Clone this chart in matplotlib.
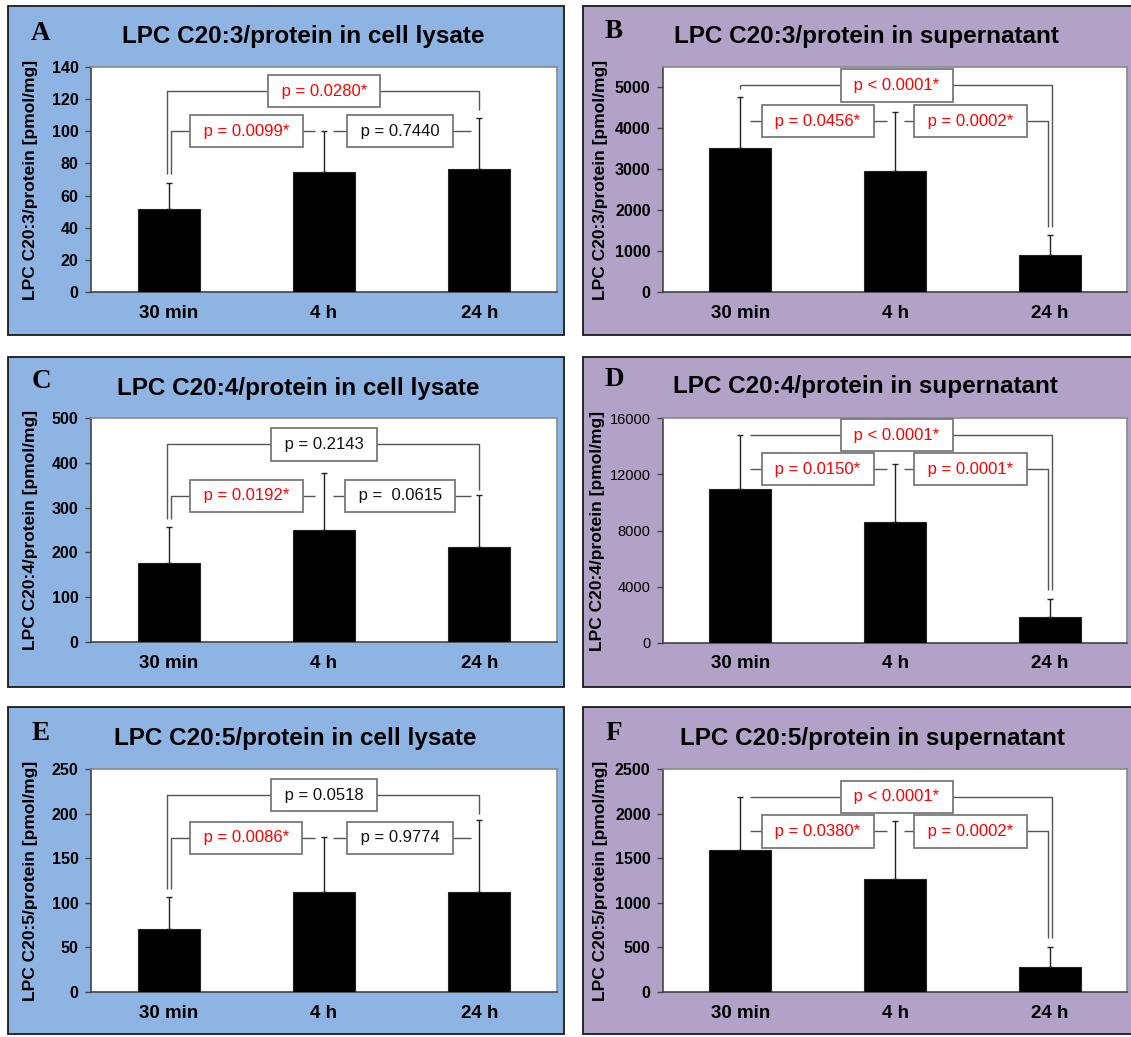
import matplotlib
matplotlib.use('Agg')
import matplotlib.pyplot as plt
from matplotlib.patches import Rectangle

W, H, DPI = 1131, 1037, 100

# ---------------- data ----------------
categories = ['30 min', '4 h', '24 h']
letters = ['A', 'B', 'C', 'D', 'E', 'F']
titles = ['LPC C20:3/protein in cell lysate', 'LPC C20:3/protein in supernatant',
          'LPC C20:4/protein in cell lysate', 'LPC C20:4/protein in supernatant',
          'LPC C20:5/protein in cell lysate', 'LPC C20:5/protein in supernatant']
ylabels = ['LPC C20:3/protein [pmol/mg]', 'LPC C20:3/protein [pmol/mg]',
           'LPC C20:4/protein [pmol/mg]', 'LPC C20:4/protein [pmol/mg]',
           'LPC C20:5/protein [pmol/mg]', 'LPC C20:5/protein [pmol/mg]']

means_A = [51.5, 74.5, 76.5]
err_A = [16.5, 25.5, 31.5]
means_B = [3507, 2945, 905]
err_B = [1243, 1443, 490]
means_C = [176, 251, 211]
err_C = [80, 126, 117]
means_D = [10984, 8606, 1878]
err_D = [3804, 4134, 1284]
means_E = [70.4, 111.8, 112.2]
err_E = [36.6, 61.8, 80.1]
means_F = [1591, 1270, 279]
err_F = [600, 645, 231]

p_top = ['p = 0.0280*', 'p < 0.0001*', 'p = 0.2143', 'p < 0.0001*', 'p = 0.0518', 'p < 0.0001*']
p_left = ['p = 0.0099*', 'p = 0.0456*', 'p = 0.0192*', 'p = 0.0150*', 'p = 0.0086*', 'p = 0.0380*']
p_right = ['p = 0.7440', 'p = 0.0002*', 'p =  0.0615', 'p = 0.0001*', 'p = 0.9774', 'p = 0.0002*']

y_max = [140, 5480, 500, 16000, 250, 2500]
y_step = [20, 1000, 100, 4000, 50, 500]

means_all = [means_A, means_B, means_C, means_D, means_E, means_F]
err_all = [err_A, err_B, err_C, err_D, err_E, err_F]

# ---------------- layout (pixels) ----------------
frames = [(8, 6, 564, 335), (583, 6, 1138, 335),
          (8, 357, 564, 687), (583, 357, 1138, 687),
          (8, 707, 564, 1034), (583, 707, 1138, 1034)]
axes_px = [(91, 67, 557, 292), (663, 67, 1127, 292),
           (91, 418, 557, 642), (663, 418, 1127, 643),
           (91, 769, 557, 992), (663, 769, 1127, 992)]
title_pos = [(303, 37), (866, 36), (298, 388), (865, 387), (295, 738), (872, 738)]
letter_pos = [(41, 33), (614, 32), (41, 381), (614, 380), (41, 733), (614, 733)]
ylabel_x = [-0.129, -0.135, -0.129, -0.142, -0.129, -0.135]
bg_cols = ['#8DB4E2', '#B3A2C7'] * 3
tick_bold = [True, True, True, False, True, True]
tick_size = [11.5, 11.5, 11.5, 10.5, 11.5, 11.5]

# bracket levels (data units)
# lysate: (top_y, inner_y, left_drop_to, top_right_drop_to)
lys_br = {0: (125, 100, 73.6, 113), 2: (441, 326, 275, 338.6), 4: (220.6, 172.9, 115.5, 200)}
# supernatant: (top_y, inner_y, right_drop_to, top_start_x, top_left_drop_to or None)
sup_br = {1: (5033, 4160, 1590, 0.0, 4950), 3: (14788, 12362, 3757, 0.061, None),
          5: (2187, 1800, 603, 0.061, None)}

SANS = ['Liberation Sans', 'DejaVu Sans']
SERIF = ['Liberation Serif', 'DejaVu Serif']
plt.rcParams['font.family'] = SANS

LINE = '#555555'
BOXEDGE = '#7a7a7a'

fig = plt.figure(figsize=(W / DPI, H / DPI), dpi=DPI)


def box_text(ax, x, y, s):
    col = '#FF0000' if '*' in s else '#111111'
    ax.text(x, y, ' ' + s + ' ', ha='center', va='center', fontsize=12, color=col,
            family=SANS, zorder=6, clip_on=False,
            bbox=dict(boxstyle='square,pad=0.52', facecolor='white', edgecolor=BOXEDGE, lw=1.3))


def line(ax, xs, ys):
    ax.plot(xs, ys, color=LINE, lw=1.0, zorder=4, clip_on=False, solid_capstyle='butt')


for i in range(6):
    x0, y0, x1, y1 = frames[i]
    fig.add_artist(Rectangle((x0 / W, 1 - y1 / H), (x1 - x0) / W, (y1 - y0) / H,
                             transform=fig.transFigure, facecolor=bg_cols[i],
                             edgecolor='#1a1a1a', lw=1.3, zorder=-5))
    a0, b0, a1, b1 = axes_px[i]
    ax = fig.add_axes([a0 / W, 1 - b1 / H, (a1 - a0) / W, (b1 - b0) / H])
    ax.set_facecolor('white')
    xs = list(range(len(categories)))
    ax.bar(xs, means_all[i], width=0.4, color='black', edgecolor='#222222', lw=0.8, zorder=3)
    ax.errorbar(xs, means_all[i], yerr=[[0] * 3, err_all[i]], fmt='none', ecolor='#222222',
                elinewidth=1.0, capsize=2.4, capthick=1.0, zorder=2)
    ax.set_xlim(-0.5, 2.5)
    ax.set_ylim(0, y_max[i])
    ticks = list(range(0, int(y_max[i]) + 1, y_step[i]))
    ax.set_yticks(ticks)
    ax.set_yticklabels([str(t) for t in ticks], fontsize=tick_size[i],
                       fontweight='bold' if tick_bold[i] else 'normal')
    ax.set_xticks(xs)
    ax.set_xticklabels(categories, fontsize=13.5, fontweight='bold')
    ax.tick_params(axis='x', length=0, pad=9)
    ax.tick_params(axis='y', length=4, width=1.0, color='#444444', pad=5, direction='out')
    for s in ['top', 'right']:
        ax.spines[s].set_color('#8a8a8a')
        ax.spines[s].set_linewidth(1.2)
    for s in ['left', 'bottom']:
        ax.spines[s].set_color('#444444')
        ax.spines[s].set_linewidth(1.2)
    ax.set_ylabel(ylabels[i], fontsize=12.5, fontweight='bold', va='center')
    ax.yaxis.set_label_coords(ylabel_x[i], 0.5)

    if i in lys_br:
        ty, iy, ld, rd = lys_br[i]
        line(ax, [-0.01, -0.01, 2.0, 2.0], [ld, ty, ty, rd])
        line(ax, [0.013, 0.013, 0.945], [ld, iy, iy])
        line(ax, [1.06, 1.944], [iy, iy])
        box_text(ax, 1.0, ty, p_top[i])
        box_text(ax, 0.5, iy, p_left[i])
        box_text(ax, 1.49, iy, p_right[i])
    else:
        ty, iy, rd, sx, ldrop = sup_br[i]
        if ldrop is not None:
            line(ax, [sx, sx], [ldrop, ty])
        line(ax, [sx, 2.014, 2.014], [ty, ty, rd])
        line(ax, [0.061, 0.95], [iy, iy])
        line(ax, [1.057, 1.99, 1.99], [iy, iy, rd])
        box_text(ax, 1.01, ty, p_top[i])
        box_text(ax, 0.5, iy, p_left[i])
        box_text(ax, 1.488, iy, p_right[i])

    tx, tyy = title_pos[i]
    fig.text(tx / W, 1 - tyy / H, titles[i], ha='center', va='center', fontsize=17.5,
             fontweight='bold', family=SANS)
    lx, ly = letter_pos[i]
    fig.text(lx / W, 1 - ly / H, letters[i], ha='center', va='center', fontsize=19.5,
             fontweight='bold', family=SERIF)

fig.savefig('out.png', dpi=DPI, facecolor='white')
